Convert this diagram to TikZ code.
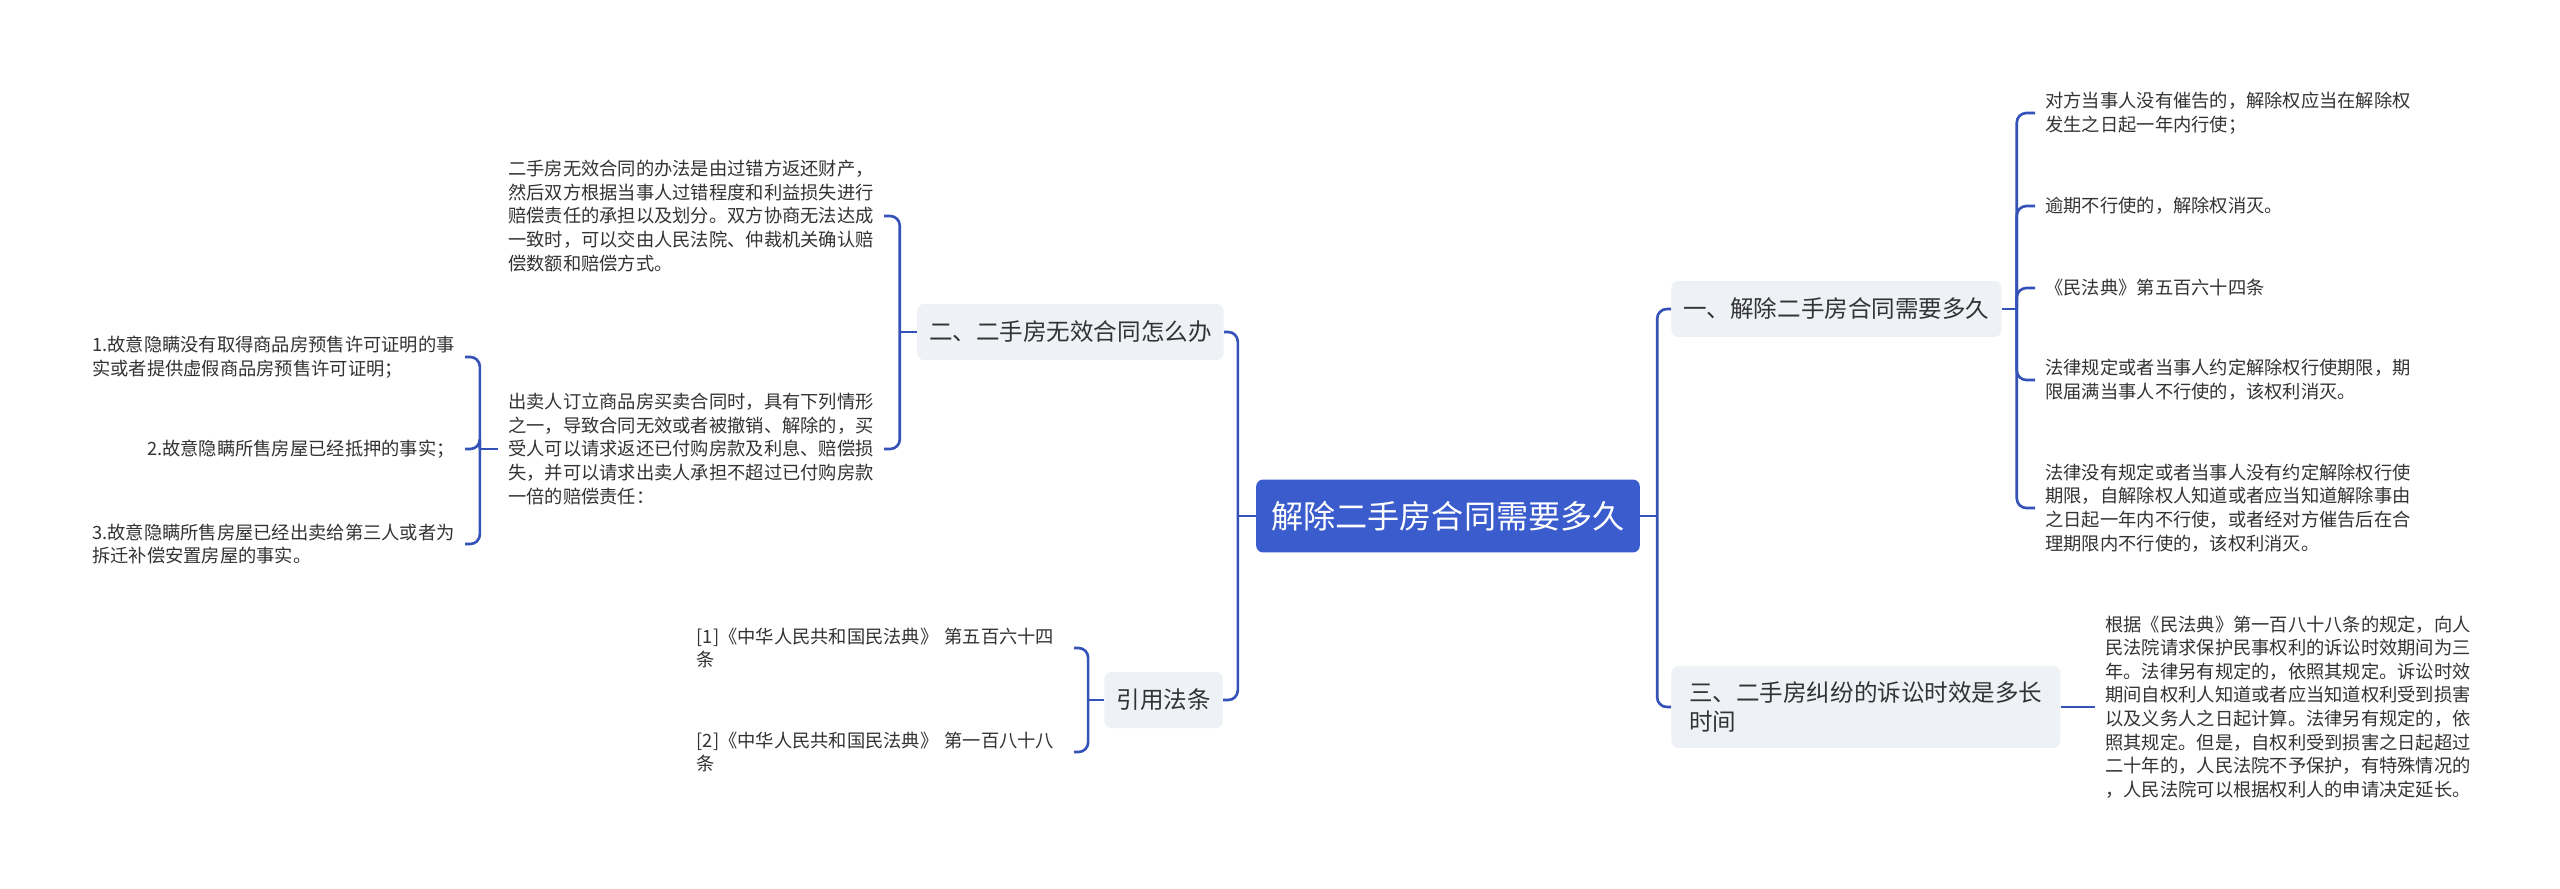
\documentclass[tikz,border=0pt]{standalone}
\usepackage{fontspec}
\newfontfamily\cjkfont{Noto Sans CJK SC}
\usepackage{xcolor}
\usepackage{tikz}
\definecolor{rootblue}{HTML}{3A5CCC}
\definecolor{linkblue}{HTML}{3552B8}
\definecolor{topicgray}{HTML}{EEF1F5}
\definecolor{textgray}{HTML}{333333}

\begin{document}
\begin{tikzpicture}[
    x=0.02cm, y=-0.02cm,
    root/.style={rectangle, rounded corners=4pt, fill=rootblue, text=white, inner xsep=0.3cm, minimum height=1.46cm, font={\cjkfont\fontsize{18.3}{22}\selectfont}},
    topic/.style={rectangle, rounded corners=4pt, fill=topicgray, text=textgray, inner xsep=0.24cm, inner ysep=0.3cm, minimum height=1.12cm, align=left, font={\cjkfont\fontsize{13.4}{17}\selectfont}},
    leaf/.style={inner xsep=0.2cm, inner ysep=2pt, align=left, text=textgray, font={\cjkfont\fontsize{10.4}{13.4}\selectfont}},
    link/.style={draw=linkblue, line width=1.5pt, rounded corners=5.5pt}
]
\path[use as bounding box, fill=white] (0,0) rectangle (2560,889);

\node[root] (root) at (1448,516) {解除二手房合同需要多久};
\node[topic, anchor=west] (b1) at (1671,309) {一、解除二手房合同需要多久};
\node[topic, anchor=west, minimum width=7.78cm] (b3) at (1671,707) {三、二手房纠纷的诉讼时效是多长\\时间};
\node[topic, anchor=east] (b2) at (1224,332) {二、二手房无效合同怎么办};
\node[topic, anchor=east] (b4) at (1223,700) {引用法条};

% right side
\node[leaf, anchor=west] (a1) at (2035,113) {对方当事人没有催告的，解除权应当在解除权\\发生之日起一年内行使；};
\node[leaf, anchor=west] (a2) at (2035,206) {逾期不行使的，解除权消灭。};
\node[leaf, anchor=west] (a3) at (2035,288) {《民法典》第五百六十四条};
\node[leaf, anchor=west] (a4) at (2035,380) {法律规定或者当事人约定解除权行使期限，期\\限届满当事人不行使的，该权利消灭。};
\node[leaf, anchor=west] (a5) at (2035,508) {法律没有规定或者当事人没有约定解除权行使\\期限，自解除权人知道或者应当知道解除事由\\之日起一年内不行使，或者经对方催告后在合\\理期限内不行使的，该权利消灭。};
\node[leaf, anchor=west] (c1) at (2095,707) {根据《民法典》第一百八十八条的规定，向人\\民法院请求保护民事权利的诉讼时效期间为三\\年。法律另有规定的，依照其规定。诉讼时效\\期间自权利人知道或者应当知道权利受到损害\\以及义务人之日起计算。法律另有规定的，依\\照其规定。但是，自权利受到损害之日起超过\\二十年的，人民法院不予保护，有特殊情况的\\，人民法院可以根据权利人的申请决定延长。};

% left side
\node[leaf, anchor=east] (d1) at (884,216) {二手房无效合同的办法是由过错方返还财产，\\然后双方根据当事人过错程度和利益损失进行\\赔偿责任的承担以及划分。双方协商无法达成\\一致时，可以交由人民法院、仲裁机关确认赔\\偿数额和赔偿方式。};
\node[leaf, anchor=east] (d2) at (884,449) {出卖人订立商品房买卖合同时，具有下列情形\\之一，导致合同无效或者被撤销、解除的，买\\受人可以请求返还已付购房款及利息、赔偿损\\失，并可以请求出卖人承担不超过已付购房款\\一倍的赔偿责任：};
\node[leaf, anchor=east] (e1) at (465,357) {1.故意隐瞒没有取得商品房预售许可证明的事\\实或者提供虚假商品房预售许可证明；};
\node[leaf, anchor=east] (e2) at (465,449) {2.故意隐瞒所售房屋已经抵押的事实；};
\node[leaf, anchor=east] (e3) at (465,544) {3.故意隐瞒所售房屋已经出卖给第三人或者为\\拆迁补偿安置房屋的事实。};
\node[leaf, anchor=east, text width=7.34cm] (f1) at (1074,648) {[1]《中华人民共和国民法典》 第五百六十四\\条};
\node[leaf, anchor=east, text width=7.34cm] (f2) at (1074,752) {[2]《中华人民共和国民法典》 第一百八十八\\条};

% connectors
\path (root.east) ++(17,0) coordinate (rj);
\draw[link] (root.east) -- (rj);
\draw[link] (rj) |- (b1.west);
\draw[link] (rj) |- (b3.west);
\path (root.west) ++(-18,0) coordinate (lj);
\draw[link] (root.west) -- (lj);
\draw[link] (lj) |- (b2.east);
\draw[link] (lj) |- (b4.east);

\path (b1.east) ++(15,0) coordinate (b1j);
\draw[link] (b1.east) -- (b1j);
\foreach \n in {a1,a2,a3,a4,a5}
    \draw[link] (b1j) |- (\n.west);
\draw[link] (b3.east) -- (c1.west);

\path (b2.west) ++(-17,0) coordinate (b2j);
\draw[link] (b2.west) -- (b2j);
\draw[link] (b2j) |- (d1.east);
\draw[link] (b2j) |- (d2.east);
\path (d2.west) ++(-18,0) coordinate (d2j);
\draw[link] (d2.west) -- (d2j);
\foreach \n in {e1,e2,e3}
    \draw[link] (d2j) |- (\n.east);

\path (b4.west) ++(-16,0) coordinate (b4j);
\draw[link] (b4.west) -- (b4j);
\draw[link] (b4j) |- (f1.east);
\draw[link] (b4j) |- (f2.east);
\end{tikzpicture}
\end{document}
